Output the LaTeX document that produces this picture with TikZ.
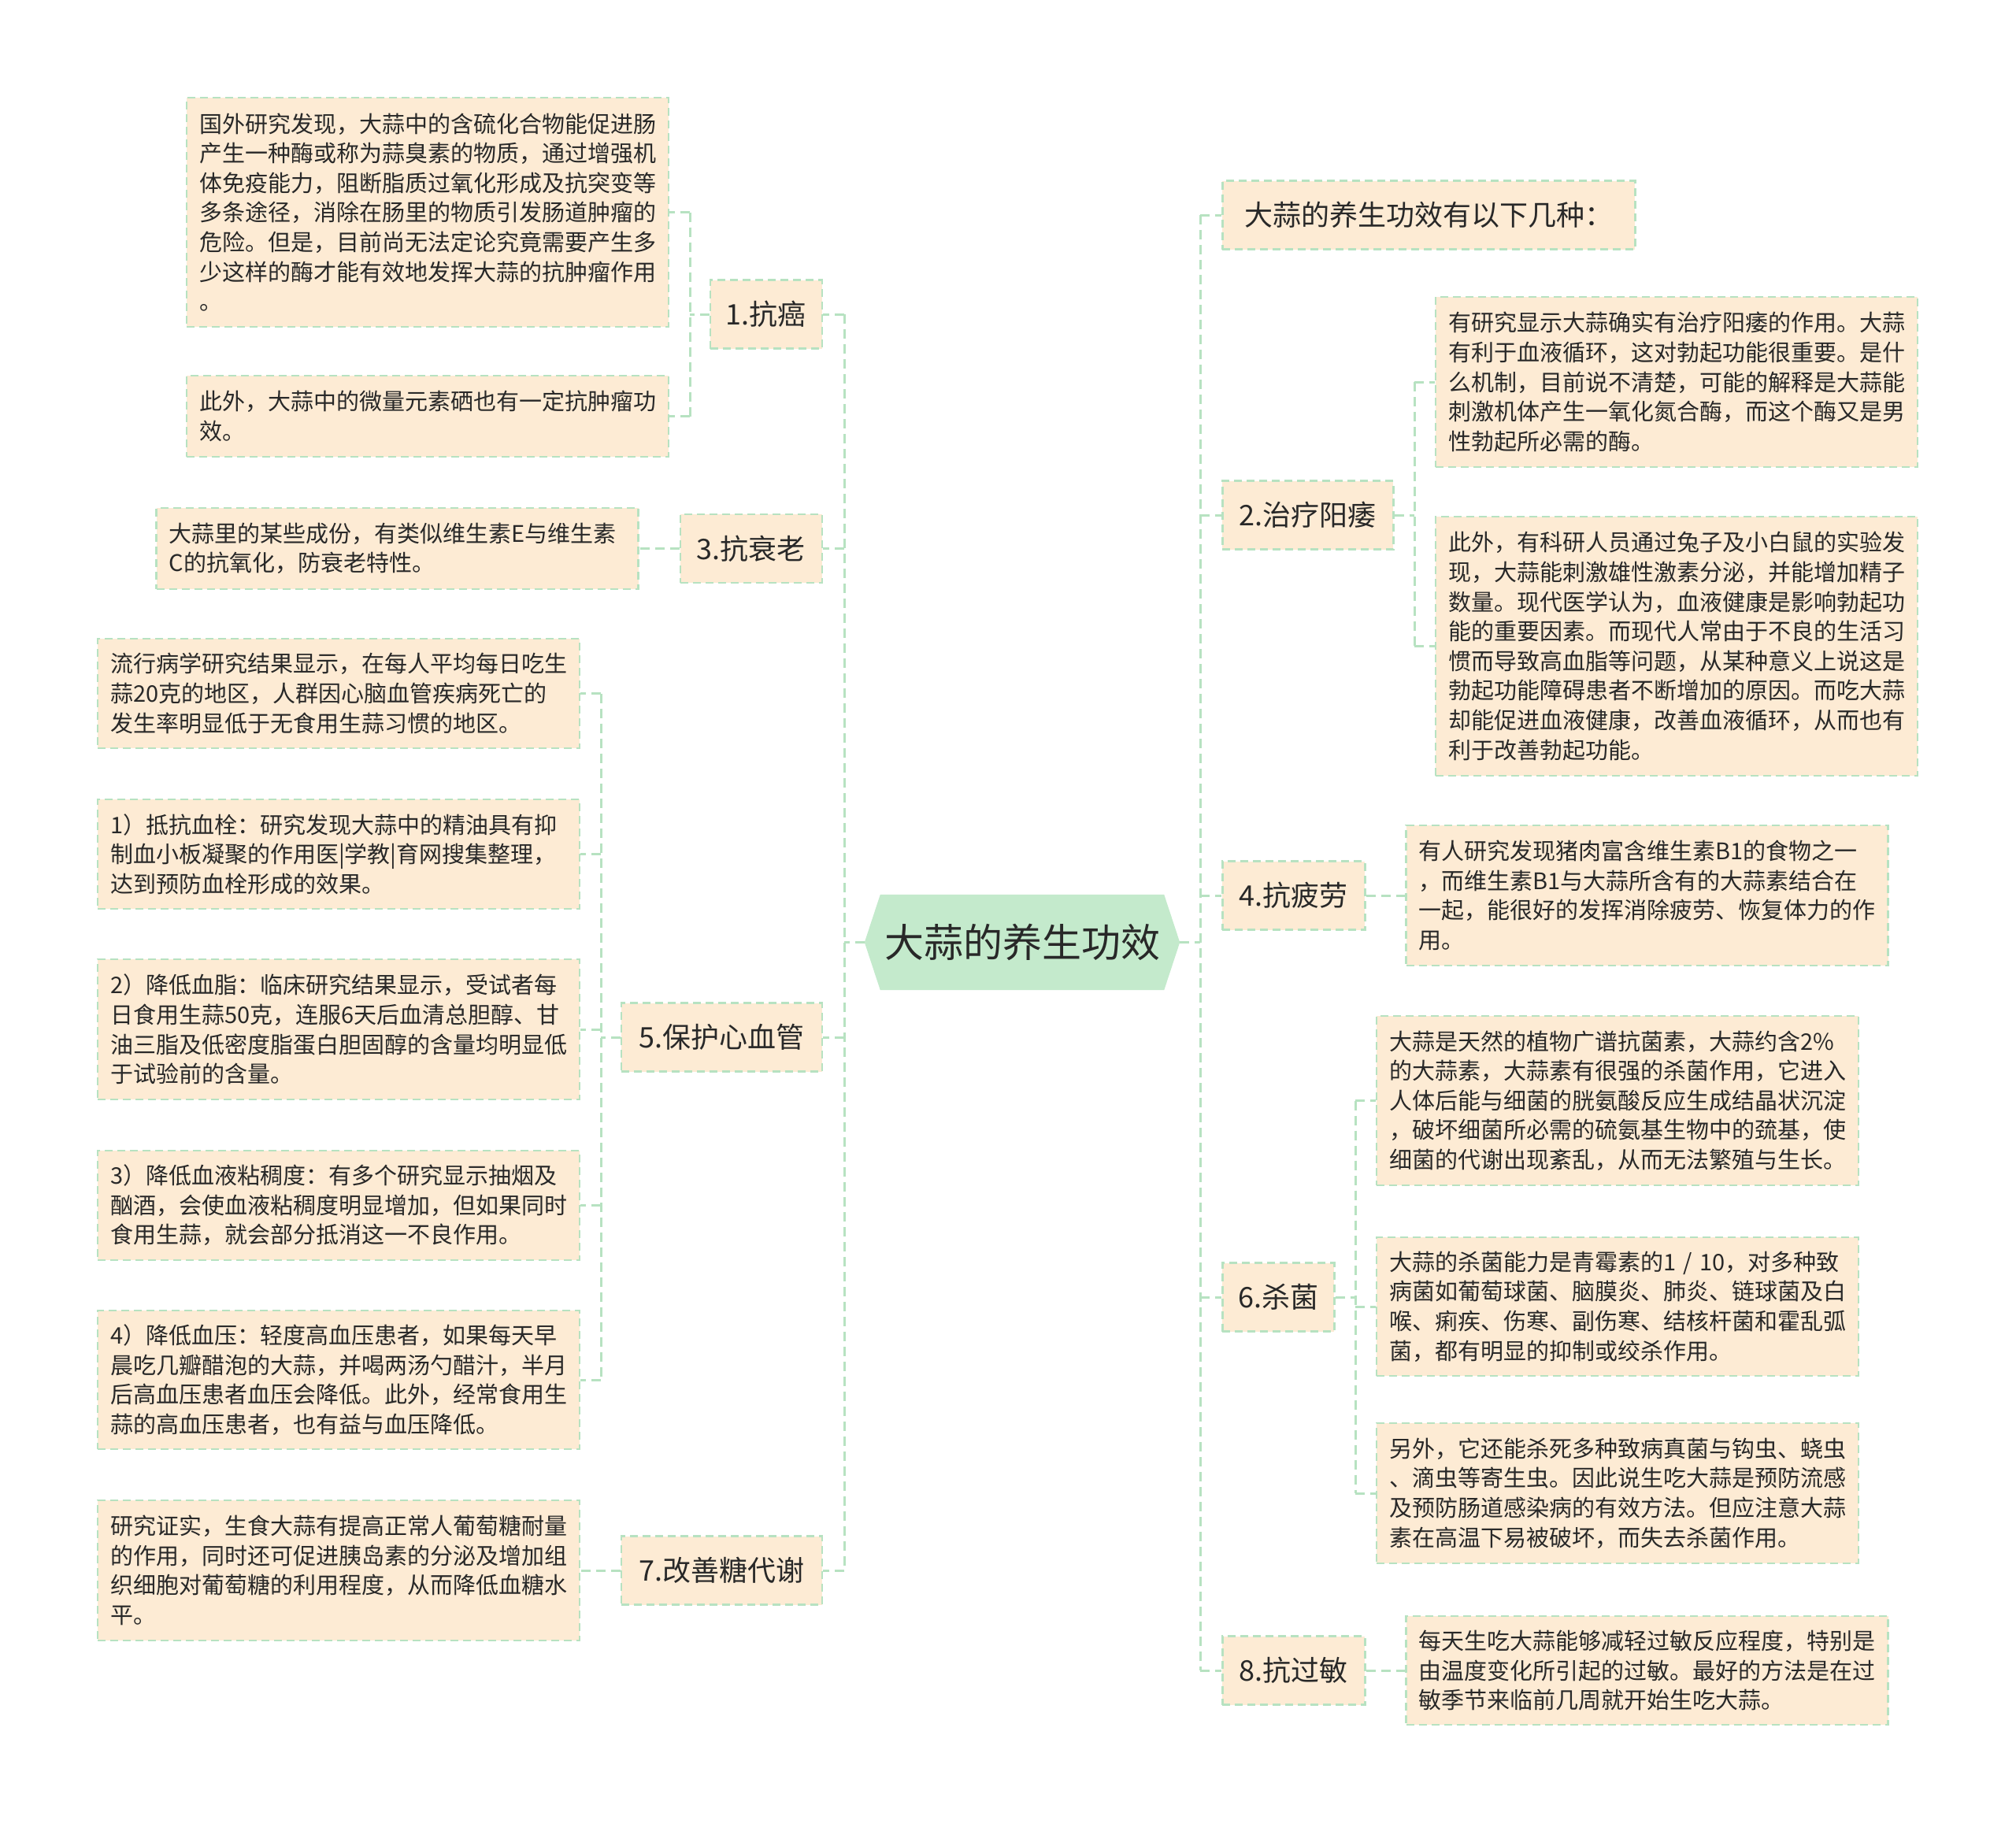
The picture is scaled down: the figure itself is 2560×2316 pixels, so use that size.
\documentclass[tikz,border=0pt]{standalone}
\usepackage{fontspec}
\setmainfont{Noto Sans CJK SC}
\usetikzlibrary{backgrounds,calc}
\definecolor{leaffill}{RGB}{253,235,212}
\definecolor{linegreen}{RGB}{183,226,193}
\definecolor{rootfill}{RGB}{196,234,204}
\definecolor{txt}{RGB}{40,40,40}
\begin{document}
\begin{tikzpicture}[x=1pt,y=-1pt,
 conn/.style={draw=linegreen, line width=3pt, dash pattern=on 12pt off 7pt},
 leafbox/.style={fill=leaffill, draw=linegreen, line width=2.5pt, dash pattern=on 10pt off 6pt, text=txt, font=\fontsize{29}{37.6}\selectfont, align=left, text width=580pt, inner xsep=16pt, inner ysep=0pt},
 branch/.style={fill=leaffill, draw=linegreen, line width=2.5pt, dash pattern=on 10pt off 6pt, text=txt, font=\fontsize{36}{40}\selectfont, minimum height=87pt, inner sep=0pt},
 rootnode/.style={text=txt, font=\fontsize{50}{56}\selectfont, minimum width=400pt, minimum height=121pt, inner sep=0pt}]
\useasboundingbox (0,0) rectangle (2560,2316);

% root
\node[rootnode] (root) at (1298,1196.5) {大蒜的养生功效};

% branches
\node[branch, minimum width=524pt, anchor=west] (b0) at (1551,273) {大蒜的养生功效有以下几种：};
\node[branch, minimum width=142pt, anchor=east] (b1) at (1045,399) {1.抗癌};
\node[branch, minimum width=217pt, anchor=west] (b2) at (1551,654) {2.治疗阳痿};
\node[branch, minimum width=180pt, anchor=east] (b3) at (1045,696.5) {3.抗衰老};
\node[branch, minimum width=181pt, anchor=west] (b4) at (1551,1137) {4.抗疲劳};
\node[branch, minimum width=255pt, anchor=east] (b5) at (1045,1317) {5.保护心血管};
\node[branch, minimum width=142pt, anchor=west] (b6) at (1551,1647) {6.杀菌};
\node[branch, minimum width=255pt, anchor=east] (b7) at (1045,1994) {7.改善糖代谢};
\node[branch, minimum width=181pt, anchor=west] (b8) at (1551,2121) {8.抗过敏};

% leaves left
\node[leafbox, minimum height=291pt] (a1) at (543,269.5) {国外研究发现，大蒜中的含硫化合物能促进肠\\产生一种酶或称为蒜臭素的物质，通过增强机\\体免疫能力，阻断脂质过氧化形成及抗突变等\\多条途径，消除在肠里的物质引发肠道肿瘤的\\危险。但是，目前尚无法定论究竟需要产生多\\少这样的酶才能有效地发挥大蒜的抗肿瘤作用\\。};
\node[leafbox, minimum height=103pt] (a2) at (543,528.5) {此外，大蒜中的微量元素硒也有一定抗肿瘤功\\效。};
\node[leafbox, minimum height=103pt] (lb) at (504.5,696.5) {大蒜里的某些成份，有类似维生素E与维生素\\C的抗氧化，防衰老特性。};
\node[leafbox, minimum height=139pt] (c1) at (430,880.5) {流行病学研究结果显示，在每人平均每日吃生\\蒜20克的地区，人群因心脑血管疾病死亡的\\发生率明显低于无食用生蒜习惯的地区。};
\node[leafbox, minimum height=139pt] (c2) at (430,1084.5) {1）抵抗血栓：研究发现大蒜中的精油具有抑\\制血小板凝聚的作用医|学教|育网搜集整理，\\达到预防血栓形成的效果。};
\node[leafbox, minimum height=178pt] (c3) at (430,1307) {2）降低血脂：临床研究结果显示，受试者每\\日食用生蒜50克，连服6天后血清总胆醇、甘\\油三脂及低密度脂蛋白胆固醇的含量均明显低\\于试验前的含量。};
\node[leafbox, minimum height=139pt] (c4) at (430,1530.5) {3）降低血液粘稠度：有多个研究显示抽烟及\\酗酒，会使血液粘稠度明显增加，但如果同时\\食用生蒜，就会部分抵消这一不良作用。};
\node[leafbox, minimum height=176pt] (c5) at (430,1752) {4）降低血压：轻度高血压患者，如果每天早\\晨吃几瓣醋泡的大蒜，并喝两汤勺醋汁，半月\\后高血压患者血压会降低。此外，经常食用生\\蒜的高血压患者，也有益与血压降低。};
\node[leafbox, minimum height=178pt] (d) at (430,1994) {研究证实，生食大蒜有提高正常人葡萄糖耐量\\的作用，同时还可促进胰岛素的分泌及增加组\\织细胞对葡萄糖的利用程度，从而降低血糖水\\平。};

% leaves right
\node[leafbox, minimum height=216pt] (e1) at (2129,485) {有研究显示大蒜确实有治疗阳痿的作用。大蒜\\有利于血液循环，这对勃起功能很重要。是什\\么机制，目前说不清楚，可能的解释是大蒜能\\刺激机体产生一氧化氮合酶，而这个酶又是男\\性勃起所必需的酶。};
\node[leafbox, minimum height=329pt] (e2) at (2129,820.5) {此外，有科研人员通过兔子及小白鼠的实验发\\现，大蒜能刺激雄性激素分泌，并能增加精子\\数量。现代医学认为，血液健康是影响勃起功\\能的重要因素。而现代人常由于不良的生活习\\惯而导致高血脂等问题，从某种意义上说这是\\勃起功能障碍患者不断增加的原因。而吃大蒜\\却能促进血液健康，改善血液循环，从而也有\\利于改善勃起功能。};
\node[leafbox, minimum height=178pt] (f) at (2091.5,1137) {有人研究发现猪肉富含维生素B1的食物之一\\，而维生素B1与大蒜所含有的大蒜素结合在\\一起，能很好的发挥消除疲劳、恢复体力的作\\用。};
\node[leafbox, minimum height=215pt] (g1) at (2054,1397.5) {大蒜是天然的植物广谱抗菌素，大蒜约含2\%\\的大蒜素，大蒜素有很强的杀菌作用，它进入\\人体后能与细菌的胱氨酸反应生成结晶状沉淀\\，破坏细菌所必需的硫氨基生物中的巯基，使\\细菌的代谢出现紊乱，从而无法繁殖与生长。};
\node[leafbox, minimum height=176pt] (g2) at (2054,1659) {大蒜的杀菌能力是青霉素的1 / 10，对多种致\\病菌如葡萄球菌、脑膜炎、肺炎、链球菌及白\\喉、痢疾、伤寒、副伤寒、结核杆菌和霍乱弧\\菌，都有明显的抑制或绞杀作用。};
\node[leafbox, minimum height=178pt] (g3) at (2054,1896) {另外，它还能杀死多种致病真菌与钩虫、蛲虫\\、滴虫等寄生虫。因此说生吃大蒜是预防流感\\及预防肠道感染病的有效方法。但应注意大蒜\\素在高温下易被破坏，而失去杀菌作用。};
\node[leafbox, minimum height=138pt] (h) at (2091.5,2121) {每天生吃大蒜能够减轻过敏反应程度，特别是\\由温度变化所引起的过敏。最好的方法是在过\\敏季节来临前几周就开始生吃大蒜。};

% connectors: main trunks
\coordinate (LT) at (1072,1196.5);
\coordinate (RT) at (1524,1196.5);
\draw[conn] (root.west) -- (LT);
\draw[conn] (root.east) -- (RT);
\draw[conn] (LT |- b1.east) -- (LT |- b7.east);
\draw[conn] (RT |- b0.west) -- (RT |- b8.west);
\foreach \n in {b1,b3,b5,b7} \draw[conn] (LT |- \n.east) -- (\n.east);
\foreach \n in {b0,b2,b4,b6,b8} \draw[conn] (RT |- \n.west) -- (\n.west);

% sub connectors left
\coordinate (S1) at (876,399);
\draw[conn] (b1.west) -- (S1);
\draw[conn] (S1 |- a1.east) -- (S1 |- a2.east);
\foreach \n in {a1,a2} \draw[conn] (S1 |- \n.east) -- (\n.east);
\draw[conn] (b3.west) -- (lb.east);
\coordinate (S5) at (763,1317);
\draw[conn] (b5.west) -- (S5);
\draw[conn] (S5 |- c1.east) -- (S5 |- c5.east);
\foreach \n in {c1,c2,c3,c4,c5} \draw[conn] (S5 |- \n.east) -- (\n.east);
\draw[conn] (b7.west) -- (d.east);

% sub connectors right
\coordinate (S2) at (1796,654);
\draw[conn] (b2.east) -- (S2);
\draw[conn] (S2 |- e1.west) -- (S2 |- e2.west);
\foreach \n in {e1,e2} \draw[conn] (S2 |- \n.west) -- (\n.west);
\draw[conn] (b4.east) -- (f.west);
\coordinate (S6) at (1721,1647);
\draw[conn] (b6.east) -- (S6);
\draw[conn] (S6 |- g1.west) -- (S6 |- g3.west);
\foreach \n in {g1,g2,g3} \draw[conn] (S6 |- \n.west) -- (\n.west);
\draw[conn] (b8.east) -- (h.west);

\begin{scope}[on background layer]
\fill[white] (0,0) rectangle (2560,2316);
\fill[rootfill] (root.west) -- ([xshift=20pt]root.north west) -- ([xshift=-20pt]root.north east) -- (root.east) -- ([xshift=-20pt]root.south east) -- ([xshift=20pt]root.south west) -- cycle;
\end{scope}
\end{tikzpicture}
\end{document}
